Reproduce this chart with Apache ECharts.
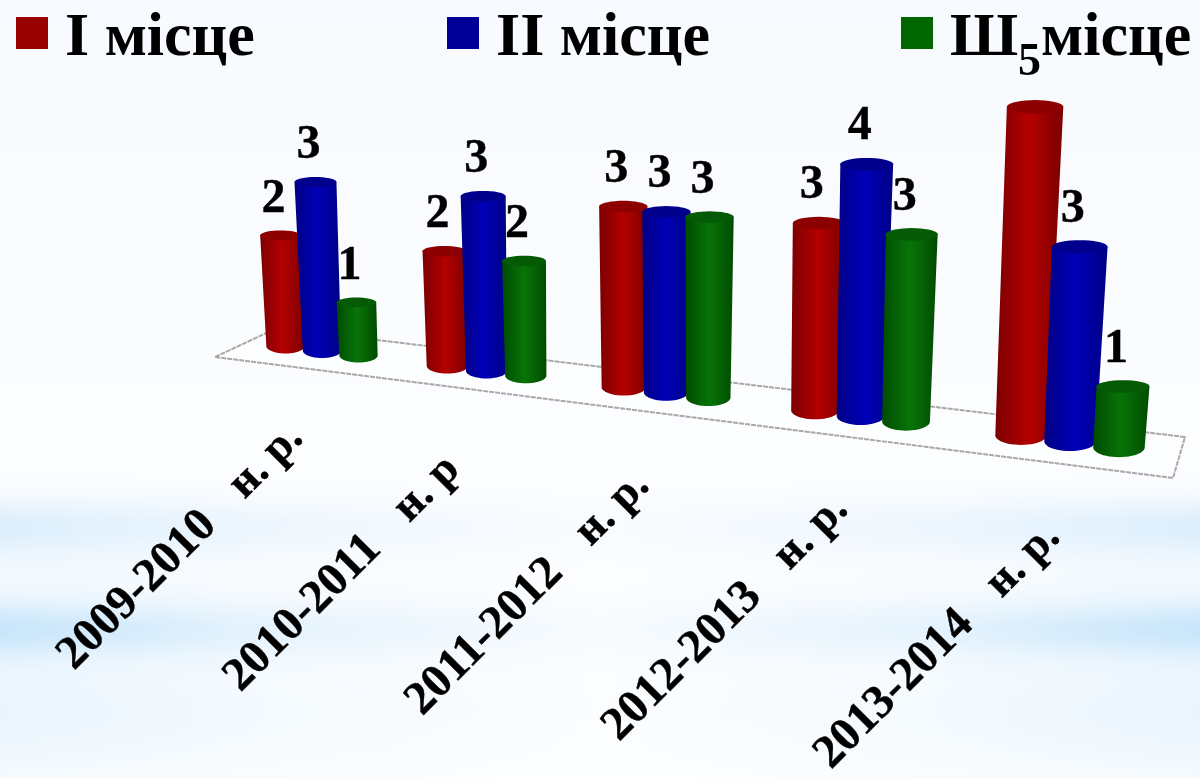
<!DOCTYPE html>
<html><head><meta charset="utf-8">
<style>html,body{margin:0;padding:0;background:#fff}#c{width:1200px;height:778px}</style>
<script src="https://cdn.jsdelivr.net/npm/echarts@6/dist/echarts.min.js"></script>
</head><body><div id="c"></div>
<script>
const categories = ['2009-2010   н. р.','2010-2011   н. р','2011-2012   н. р.','2012-2013   н. р.','2013-2014   н. р.'];
const firstPlace  = [2,2,3,3,5];
const secondPlace = [3,3,3,4,3];
const thirdPlace  = [1,2,3,3,1];
const firstLabels  = ['2','2','3','3',''];
const secondLabels = ['3','3','3','4','3'];
const thirdLabels  = ['1','2','3','3','1'];
const seriesNames = ['І місце','ІІ місце','ІІІ місце'];

const FONT = '"Liberation Serif","Times New Roman",serif';
const shades = [
  {edge:'#7c0000',mid:'#b40000',cap:'#8c0000',flat:'#990000'},
  {edge:'#000084',mid:'#0000b8',cap:'#00008c',flat:'#000099'},
  {edge:'#004c00',mid:'#087408',cap:'#055a05',flat:'#006600'}
];
// fake 3D projection of the flat axis positions
const warpX = u => u + 0.000214*(u-322)*(u-1070);
const spacing = x => 36.5 + 0.0167*(x-322);
const floorY = (x, zeroY) => zeroY - 320 + 0.1244*(x-322);
const heightPx = (x, units) => units*(58+0.012*(x-322)) + 7 + 0.004*(x-322);

function ellipsePts(cx, cy, rx, ry, from, to, n){
  const p=[]; for(let k=0;k<=n;k++){const a=from+(to-from)*k/n; p.push([cx+rx*Math.cos(a),cy+ry*Math.sin(a)]);} return p;
}
function cylinderRender(si, labels){
  return function(params, api){
    const i = api.value(0), v = api.value(1);
    const top0 = api.coord([i, v]), base0 = api.coord([i, 0]);
    const unitsPx = (base0[1]-top0[1])/api.size([0,1])[1];
    const gx = warpX(base0[0]);
    const s = spacing(gx);
    const x = gx + (si-1)*s;
    const bottom = floorY(x, base0[1]);
    const h = heightPx(gx, unitsPx);
    const w = s*1.05;
    const wTop = w + Math.min(5, 0.02*h);
    const ryB = w*0.19, ryT = wTop*0.12;
    const topX = x + (x-650)*0.00011*h;
    const topCy = bottom - h + ryT;
    const baseCy = bottom - ryB;
    const sh = shades[si];
    const side = [[topX-wTop/2, topCy],[topX+wTop/2, topCy]].concat(
      ellipsePts(x, baseCy, w/2, ryB, 0, Math.PI, 24)
    );
    const children = [
      {type:'polygon', shape:{points:side}, style:{fill:new echarts.graphic.LinearGradient(0,0,1,0,[
        {offset:0,color:sh.edge},{offset:0.5,color:sh.mid},{offset:1,color:sh.edge}])}},
      {type:'polygon', shape:{points:ellipsePts(topX, topCy, wTop/2, ryT, 0, Math.PI*2, 36)}, style:{fill:sh.cap}}
    ];
    const t = labels[i];
    if(t){
      children.push({type:'text', z2:50, style:{text:t, x:topX-7, y:bottom-h-31, align:'center', verticalAlign:'middle',
        font:'bold 48px '+FONT, fill:'#000', stroke:'#000', lineWidth:0.4}});
    }
    return {type:'group', children};
  };
}
function categoryRender(params, api){
  const i = api.value(0);
  const base0 = api.coord([i, 0]);
  const gx = warpX(base0[0]);
  const y = floorY(gx, base0[1]);
  const parts = categories[i].split('   ');
  return {type:'text', x:gx-240+0.012*(gx-322), y:y+321+0.008*(gx-322), rotation:Math.PI/4,
    style:{text:'{a|'+parts[0]+'}{g| }{b|'+parts[1]+'}', x:0, y:0, align:'left', verticalAlign:'bottom',
      rich:{a:{font:'bold 47px '+FONT,fill:'#000',stroke:'#000',lineWidth:0.4},g:{font:'bold 30px '+FONT,width:38},b:{font:'bold 45px '+FONT,fill:'#000',stroke:'#000',lineWidth:0.4}}}};
}
const pairs = arr => arr.map((v,i)=>[i,v]);
const legendCfg = (name,left,formatter)=>({
  data:[name], left, top:8, itemWidth:32, itemHeight:32, icon:'rect', selectedMode:false, itemGap:0, padding:0,
  textStyle:{fontFamily:'Liberation Serif',fontWeight:'bold',fontSize:62,color:'#000',padding:[12,0,0,12],
    rich:{s:{fontFamily:'Liberation Serif',fontWeight:'bold',fontSize:46,color:'#000',padding:[48,0,0,0],verticalAlign:'bottom'}}},
  formatter
});
// soft background bands
const gauss = (y,c,w) => Math.exp(-Math.pow((y-c)/w,2));
const bandRows = [];
for(let y=400;y<778;y+=3){
  const e = 0.75*gauss(y,628,28)+0.5*gauss(y,525,28)+0.3*gauss(y,710,70)+0.12*gauss(y,575,40);
  const c = `rgba(190,225,250,`;
  bandRows.push({type:'rect',z:0,silent:true,shape:{x:0,y,width:1200,height:3},style:{fill:new echarts.graphic.LinearGradient(0,0,1,0,[
    {offset:0,color:c+e+')'},{offset:0.22,color:c+e*0.45+')'},{offset:0.5,color:c+e*0.1+')'},{offset:0.78,color:c+e*0.45+')'},{offset:1,color:c+e+')'}])}});
}
const chart = echarts.init(document.getElementById('c'),null,{renderer:'canvas'});
chart.setOption({
  animation:false,
  backgroundColor:new echarts.graphic.LinearGradient(0,0,0,1,[{offset:0,color:'#f7fafe'},{offset:0.55,color:'#fcfdff'},{offset:1,color:'#fdfeff'}]),
  grid:{left:228.5,width:935,top:78,height:600},
  xAxis:{type:'category',data:categories,show:false},
  yAxis:{type:'value',min:0,max:10,show:false},
  legend:[legendCfg(seriesNames[0],16),legendCfg(seriesNames[1],447),legendCfg(seriesNames[2],901,()=>'Ш{s|5}місце')],
  graphic:{elements:bandRows.concat([
    {type:'polygon',z:1,silent:true,shape:{points:[[215,357],[277,328],[1185,437],[1173,478]]},
      style:{fill:'rgba(255,255,255,0.35)',stroke:'#a8a8a8',lineWidth:2,lineDash:[5,1]}}
  ])},
  series:[
    {type:'custom',name:seriesNames[0],color:shades[0].flat,coordinateSystem:'cartesian2d',data:pairs(firstPlace),renderItem:cylinderRender(0,firstLabels),encode:{x:0,y:1}},
    {type:'custom',name:seriesNames[1],color:shades[1].flat,coordinateSystem:'cartesian2d',data:pairs(secondPlace),renderItem:cylinderRender(1,secondLabels),encode:{x:0,y:1}},
    {type:'custom',name:seriesNames[2],color:shades[2].flat,coordinateSystem:'cartesian2d',data:pairs(thirdPlace),renderItem:cylinderRender(2,thirdLabels),encode:{x:0,y:1}},
    {type:'custom',name:'categories',silent:true,coordinateSystem:'cartesian2d',data:categories.map((c,i)=>[i,0]),renderItem:categoryRender,encode:{x:0,y:1}}
  ]
});
</script></body></html>
